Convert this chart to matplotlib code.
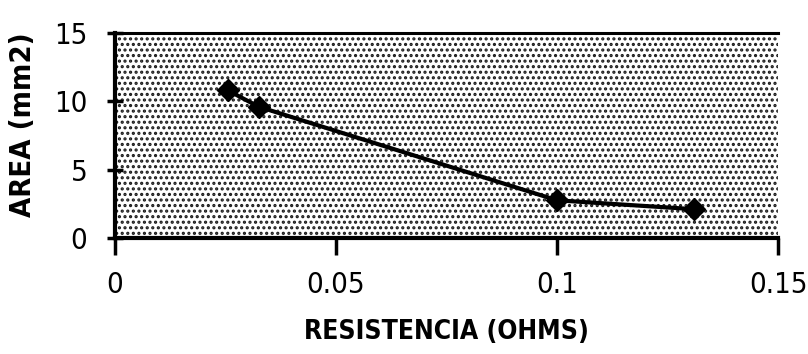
import matplotlib
matplotlib.use("Agg")
import matplotlib.pyplot as plt
from matplotlib.patches import Rectangle

# Resistance (ohms) vs conductor cross-section area (mm2)
resistencia = [0.0255, 0.0325, 0.100, 0.131]
area = [10.8, 9.6, 2.75, 2.1]

x_ticks = [0, 0.05, 0.10, 0.15]
x_tick_labels = ["0", "0.05", "0.1", "0.15"]
y_ticks = [0, 5, 10, 15]
y_tick_labels = ["0", "5", "10", "15"]

plt.rcParams["font.family"] = ["DejaVu Sans"]
plt.rcParams["font.stretch"] = "condensed"

fig = plt.figure(figsize=(8.08, 3.54), dpi=100)
ax = fig.add_axes([0.1423, 0.328, 0.8207, 0.579])

# stippled plot area
ax.set_facecolor("white")
plt.rcParams["hatch.linewidth"] = 1.5
ax.add_patch(Rectangle((0, 0), 1, 1, transform=ax.transAxes,
                       facecolor="white", edgecolor="#1a1a1a",
                       hatch="...", linewidth=0, zorder=0))

ax.plot(resistencia, area, color="black", linewidth=3,
        marker="D", markersize=11, markerfacecolor="black",
        markeredgecolor="black", zorder=3, clip_on=False)

ax.set_xlim(0, 0.15)
ax.set_ylim(0, 15)
ax.set_xticks(x_ticks)
ax.set_yticks(y_ticks)
ax.set_xticklabels(x_tick_labels, fontsize=21, fontstretch="condensed")
ax.set_yticklabels(y_tick_labels, fontsize=21, fontstretch="condensed")

ax.tick_params(axis="x", direction="out", length=12, width=2.5,
               pad=12, color="black")
ax.tick_params(axis="y", direction="inout", length=12, width=2.5,
               pad=14, color="black")

for side in ("left", "bottom"):
    ax.spines[side].set_linewidth(3)
ax.spines["top"].set_linewidth(2.2)
ax.spines["right"].set_visible(False)

ax.set_xlabel("RESISTENCIA (OHMS)", fontsize=19, fontweight="heavy",
              fontstretch="condensed", labelpad=14)
ax.set_ylabel("AREA (mm2)", fontsize=21, fontweight="heavy",
              fontstretch="condensed")
ax.yaxis.set_label_coords(-0.117, 0.55)

fig.savefig("out.png", dpi=100)
